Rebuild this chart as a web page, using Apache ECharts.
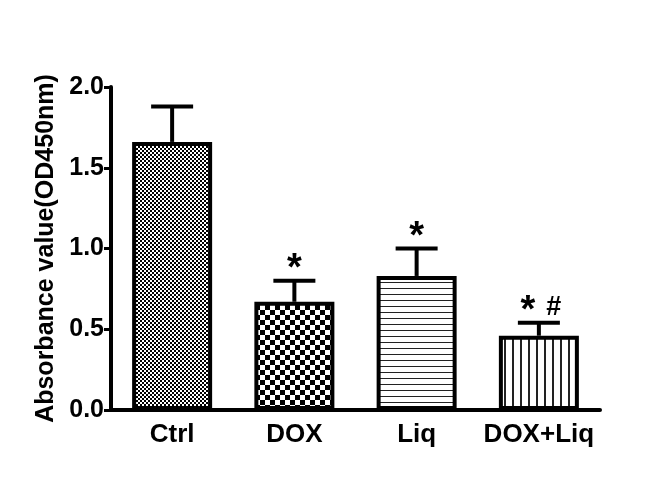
<!DOCTYPE html>
<html>
<head>
<meta charset="utf-8">
<script src="https://cdn.jsdelivr.net/npm/echarts@6/dist/echarts.min.js"></script>
<style>
html,body{margin:0;padding:0;background:#fff;}
#chart{width:646px;height:482px;}
</style>
</head>
<body>
<div id="chart"></div>
<script>
var categories = ['Ctrl', 'DOX', 'Liq', 'DOX+Liq'];
var means = [1.66, 0.67, 0.83, 0.46];
var errors = [0.22, 0.13, 0.17, 0.08];
var marks = ['', '*', '*', '* #'];
var yTicks = [0, 0.5, 1.0, 1.5, 2.0];

// fill patterns drawn on small canvases
function checker(size) {
    var c = document.createElement('canvas');
    c.width = size * 2; c.height = size * 2;
    var g = c.getContext('2d');
    g.fillStyle = '#fff'; g.fillRect(0, 0, c.width, c.height);
    g.fillStyle = '#000';
    g.fillRect(0, 0, size, size);
    g.fillRect(size, size, size, size);
    return c;
}
function stripes(step, thick, vertical) {
    var c = document.createElement('canvas');
    c.width = step; c.height = step;
    var g = c.getContext('2d');
    g.fillStyle = '#fff'; g.fillRect(0, 0, step, step);
    g.fillStyle = '#222';
    if (vertical) g.fillRect(0, 0, thick, step);
    else g.fillRect(0, 0, step, thick);
    return c;
}
var patterns = [
    checker(2),
    checker(5),
    stripes(6, 1, false),
    stripes(8, 2, true)
];

var barData = means.map(function (v, i) {
    return {
        value: v,
        itemStyle: { color: { image: patterns[i], repeat: 'repeat' } }
    };
});
var errData = means.map(function (v, i) { return [i, v, v + errors[i]]; });

var chart = echarts.init(document.getElementById('chart'));
var font = '"Liberation Sans", Arial, sans-serif';
chart.setOption({
    animation: false,
    grid: { left: 111, right: 46, top: 87, bottom: 72 },
    xAxis: {
        type: 'category',
        data: categories,
        axisLine: { lineStyle: { color: '#000', width: 4 } },
        axisTick: { alignWithLabel: true, length: 7, lineStyle: { color: '#000', width: 3 } },
        axisLabel: { interval: 0, hideOverlap: false, color: '#000', fontWeight: 'bold', fontSize: 26, fontFamily: font, margin: 12 }
    },
    yAxis: {
        type: 'value',
        min: 0, max: 2, interval: 0.5,
        name: 'Absorbance value(OD450nm)',
        nameLocation: 'middle',
        nameGap: 44,
        nameTextStyle: { color: '#000', fontWeight: 'bold', fontSize: 25, fontFamily: font },
        axisLine: { show: true, lineStyle: { color: '#000', width: 4 } },
        axisTick: { show: true, length: 7, lineStyle: { color: '#000', width: 3 } },
        splitLine: { show: false },
        axisLabel: {
            color: '#000', fontWeight: 'bold', fontSize: 25, fontFamily: font, margin: 7,
            formatter: function (v) { return v.toFixed(1); }
        }
    },
    series: [
        {
            type: 'bar',
            data: barData,
            barWidth: 80,
            itemStyle: { borderColor: '#000', borderWidth: 4 },
            z: 2
        },
        {
            type: 'custom',
            data: errData,
            z: 3,
            renderItem: function (params, api) {
                var x = api.coord([api.value(0), 0])[0];
                var yLo = api.coord([0, api.value(1)])[1];
                var yHi = api.coord([0, api.value(2)])[1];
                var cap = 21;
                var style = { stroke: '#000', lineWidth: 4 };
                var children = [
                    { type: 'line', shape: { x1: x, y1: yLo, x2: x, y2: yHi }, style: style },
                    { type: 'line', shape: { x1: x - cap, y1: yHi, x2: x + cap, y2: yHi }, style: style }
                ];
                var parts = marks[params.dataIndex] ? marks[params.dataIndex].split(' ') : [];
                parts.forEach(function (p, k) {
                    var dx = parts.length > 1 ? (k === 0 ? -11 : 15) : 0;
                    var star = p === '*';
                    children.push({
                        type: 'text',
                        style: {
                            text: p, x: x + dx, y: star ? yHi + 8 : yHi - 2,
                            align: 'center', verticalAlign: 'bottom',
                            fill: '#000',
                            font: star ? 'bold 38px ' + font : 'bold 27px ' + font
                        }
                    });
                });
                return { type: 'group', children: children };
            }
        }
    ]
});
</script>
</body>
</html>
